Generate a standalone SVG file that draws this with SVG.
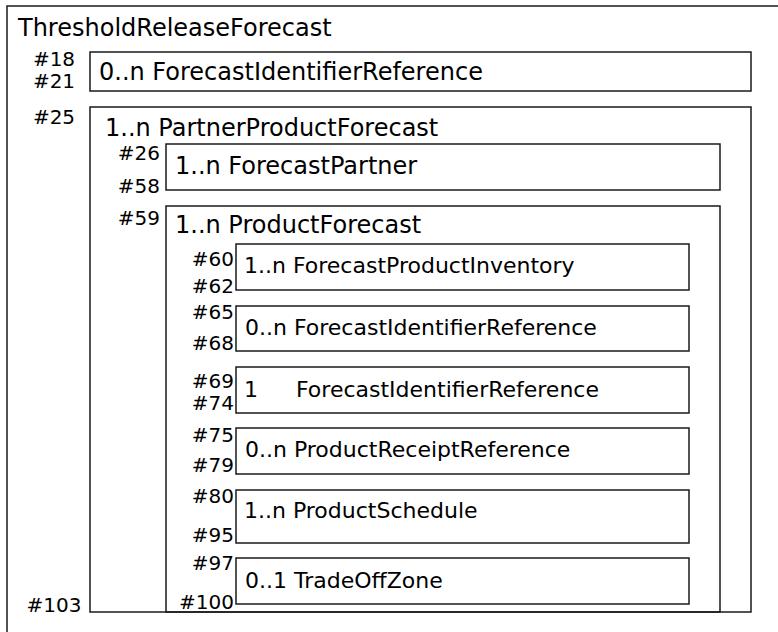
<svg xmlns="http://www.w3.org/2000/svg" width="778" height="632" viewBox="0 0 778 632">
<style>
rect{fill:none;stroke:#1a1a1a;stroke-width:1.5}
text{font-family:"DejaVu Sans",Verdana,sans-serif;fill:#000}
.t0{font-size:24px}
.t2{font-size:22px}
.lb{font-size:20px}
.m{text-anchor:middle}
.e{text-anchor:end}
</style>
<rect x="0" y="0" width="778" height="632" style="fill:#fff;stroke:none"/>
<g id="ThresholdReleaseForecast">
<rect x="7" y="6" width="820" height="700"/>
<text class="t0" x="18" y="35.5">ThresholdReleaseForecast</text>
</g>
<g id="ForecastIdentifierReference_18">
<rect x="90" y="52" width="661" height="39"/>
<text class="lb m" x="54" y="66">#18</text>
<text class="lb m" x="54" y="88">#21</text>
<text class="t0" x="99" y="80">0..n ForecastIdentifierReference</text>
</g>
<g id="PartnerProductForecast_25">
<rect x="90" y="107" width="661" height="505"/>
<text class="lb m" x="54" y="124">#25</text>
<text class="lb m" x="54" y="612">#103</text>
<text class="t0" x="105" y="136">1..n PartnerProductForecast</text>
<g id="ForecastPartner_26">
<rect x="166" y="144" width="554" height="46"/>
<text class="lb e" x="160" y="160">#26</text>
<text class="lb e" x="160" y="193">#58</text>
<text class="t0" x="175" y="174">1..n ForecastPartner</text>
</g>
<g id="ProductForecast_59">
<rect x="166" y="206" width="554" height="406"/>
<text class="lb e" x="160" y="225">#59</text>
<text class="t0" x="175" y="233">1..n ProductForecast</text>
<g id="ForecastProductInventory_60">
<rect x="236" y="244" width="453" height="46"/>
<text class="lb e" x="234" y="266">#60</text>
<text class="lb e" x="234" y="293">#62</text>
<text class="t2" x="244" y="273">1..n ForecastProductInventory</text>
</g>
<g id="ForecastIdentifierReference_65">
<rect x="236" y="306" width="453" height="45"/>
<text class="lb e" x="234" y="319">#65</text>
<text class="lb e" x="234" y="350">#68</text>
<text class="t2" x="245" y="335">0..n ForecastIdentifierReference</text>
</g>
<g id="ForecastIdentifierReference_69">
<rect x="236" y="367" width="453" height="46"/>
<text class="lb e" x="234" y="388">#69</text>
<text class="lb e" x="234" y="410">#74</text>
<text class="t2" x="244" y="397">1<tspan x="296">ForecastIdentifierReference</tspan></text>
</g>
<g id="ProductReceiptReference_75">
<rect x="236" y="428" width="453" height="46"/>
<text class="lb e" x="234" y="442">#75</text>
<text class="lb e" x="234" y="472">#79</text>
<text class="t2" x="245" y="457">0..n ProductReceiptReference</text>
</g>
<g id="ProductSchedule_80">
<rect x="236" y="490" width="453" height="53"/>
<text class="lb e" x="234" y="503">#80</text>
<text class="lb e" x="234" y="542">#95</text>
<text class="t2" x="244" y="518">1..n ProductSchedule</text>
</g>
<g id="TradeOffZone_97">
<rect x="236" y="558" width="453" height="46"/>
<text class="lb e" x="234" y="570">#97</text>
<text class="lb e" x="234" y="609">#100</text>
<text class="t2" x="245" y="588">0..1 TradeOffZone</text>
</g>
</g>
</g>
<g id="connectors"/>
</svg>
